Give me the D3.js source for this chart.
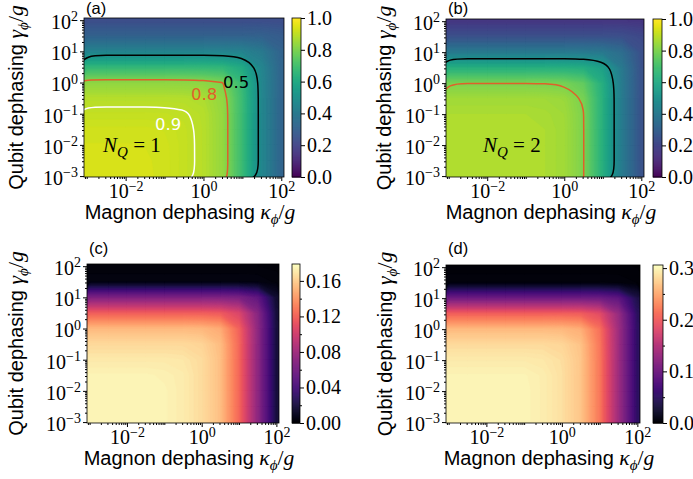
<!DOCTYPE html>
<html>
<head>
<meta charset="utf-8">
<script src="https://cdn.jsdelivr.net/npm/d3@7"></script>
<style>
  body { margin: 0; background: #fff; }
  svg { display: block; }
</style>
</head>
<body>
<svg id="fig" width="693" height="479"></svg>
<script>
// grid of the maps: columns are log10(kappa_phi/g), rows are log10(gamma_phi/g), top row first
var logKappa = [-3, -2.5, -2, -1.5, -1, -0.5, 0, 0.5, 1, 1.5, 2];
var logGamma = [2, 1.5, 1, 0.5, 0, -0.5, -1, -1.5, -2, -2.5, -3];

// (a) fidelity, N_Q = 1
var fidelityNQ1 = [
  [0.235, 0.235, 0.235, 0.235, 0.235, 0.235, 0.235, 0.235, 0.235, 0.235, 0.234],
  [0.310, 0.310, 0.310, 0.310, 0.310, 0.310, 0.310, 0.310, 0.310, 0.308, 0.288],
  [0.446, 0.446, 0.446, 0.446, 0.446, 0.446, 0.446, 0.445, 0.440, 0.404, 0.315],
  [0.660, 0.660, 0.660, 0.660, 0.660, 0.660, 0.659, 0.652, 0.600, 0.452, 0.320],
  [0.830, 0.830, 0.830, 0.830, 0.830, 0.829, 0.825, 0.800, 0.669, 0.459, 0.320],
  [0.887, 0.887, 0.887, 0.887, 0.887, 0.885, 0.876, 0.834, 0.679, 0.460, 0.320],
  [0.910, 0.910, 0.910, 0.910, 0.909, 0.905, 0.888, 0.840, 0.680, 0.460, 0.320],
  [0.928, 0.928, 0.928, 0.928, 0.924, 0.911, 0.890, 0.840, 0.680, 0.460, 0.320],
  [0.934, 0.934, 0.934, 0.933, 0.929, 0.912, 0.890, 0.840, 0.680, 0.460, 0.320],
  [0.940, 0.940, 0.940, 0.935, 0.930, 0.912, 0.890, 0.840, 0.680, 0.460, 0.320],
  [0.940, 0.940, 0.940, 0.936, 0.930, 0.912, 0.890, 0.840, 0.680, 0.460, 0.320]
];

// (b) fidelity, N_Q = 2
var fidelityNQ2 = [
  [0.159, 0.159, 0.159, 0.159, 0.159, 0.159, 0.159, 0.159, 0.159, 0.159, 0.157],
  [0.249, 0.249, 0.249, 0.249, 0.249, 0.249, 0.249, 0.249, 0.249, 0.245, 0.219],
  [0.408, 0.408, 0.408, 0.408, 0.408, 0.408, 0.408, 0.407, 0.401, 0.355, 0.246],
  [0.628, 0.628, 0.628, 0.628, 0.628, 0.628, 0.626, 0.619, 0.563, 0.402, 0.250],
  [0.799, 0.799, 0.799, 0.799, 0.799, 0.798, 0.793, 0.757, 0.621, 0.409, 0.250],
  [0.860, 0.860, 0.860, 0.860, 0.860, 0.858, 0.848, 0.794, 0.630, 0.410, 0.250],
  [0.875, 0.875, 0.875, 0.875, 0.875, 0.870, 0.858, 0.801, 0.630, 0.410, 0.250],
  [0.880, 0.880, 0.880, 0.880, 0.880, 0.875, 0.860, 0.802, 0.630, 0.410, 0.250],
  [0.880, 0.880, 0.880, 0.880, 0.880, 0.875, 0.860, 0.802, 0.630, 0.410, 0.250],
  [0.880, 0.880, 0.880, 0.880, 0.880, 0.875, 0.860, 0.802, 0.630, 0.410, 0.250],
  [0.880, 0.880, 0.880, 0.880, 0.880, 0.875, 0.860, 0.802, 0.630, 0.410, 0.250]
];

// (c)
var mapC = [
  [0.003, 0.003, 0.003, 0.003, 0.003, 0.003, 0.003, 0.003, 0.003, 0.003, 0.0025],
  [0.006, 0.006, 0.006, 0.006, 0.006, 0.006, 0.006, 0.006, 0.006, 0.0058, 0.004],
  [0.065, 0.065, 0.065, 0.065, 0.065, 0.065, 0.065, 0.065, 0.063, 0.052, 0.016],
  [0.118, 0.118, 0.118, 0.118, 0.118, 0.118, 0.118, 0.116, 0.105, 0.069, 0.019],
  [0.153, 0.153, 0.153, 0.153, 0.153, 0.153, 0.152, 0.147, 0.120, 0.072, 0.020],
  [0.165, 0.165, 0.165, 0.165, 0.165, 0.165, 0.163, 0.154, 0.122, 0.072, 0.020],
  [0.171, 0.171, 0.171, 0.171, 0.171, 0.170, 0.166, 0.155, 0.122, 0.072, 0.020],
  [0.175, 0.175, 0.175, 0.175, 0.174, 0.172, 0.166, 0.155, 0.122, 0.072, 0.020],
  [0.176, 0.176, 0.176, 0.176, 0.175, 0.172, 0.166, 0.155, 0.122, 0.072, 0.020],
  [0.176, 0.176, 0.176, 0.176, 0.175, 0.172, 0.166, 0.155, 0.122, 0.072, 0.020],
  [0.176, 0.176, 0.176, 0.176, 0.175, 0.172, 0.166, 0.155, 0.122, 0.072, 0.020]
];

// (d)
var mapD = [
  [0.003, 0.003, 0.003, 0.003, 0.003, 0.003, 0.003, 0.003, 0.003, 0.003, 0.0025],
  [0.008, 0.008, 0.008, 0.008, 0.008, 0.008, 0.008, 0.008, 0.008, 0.0075, 0.005],
  [0.100, 0.100, 0.100, 0.100, 0.100, 0.100, 0.100, 0.100, 0.099, 0.088, 0.040],
  [0.204, 0.204, 0.204, 0.204, 0.204, 0.204, 0.204, 0.202, 0.187, 0.129, 0.050],
  [0.262, 0.262, 0.262, 0.262, 0.262, 0.262, 0.261, 0.254, 0.215, 0.135, 0.052],
  [0.283, 0.283, 0.283, 0.283, 0.283, 0.283, 0.280, 0.267, 0.219, 0.135, 0.052],
  [0.293, 0.293, 0.293, 0.293, 0.293, 0.291, 0.285, 0.269, 0.220, 0.135, 0.052],
  [0.299, 0.299, 0.299, 0.299, 0.299, 0.295, 0.286, 0.269, 0.220, 0.135, 0.052],
  [0.300, 0.300, 0.300, 0.300, 0.300, 0.295, 0.286, 0.269, 0.220, 0.135, 0.052],
  [0.300, 0.300, 0.300, 0.300, 0.300, 0.295, 0.286, 0.269, 0.220, 0.135, 0.052],
  [0.300, 0.300, 0.300, 0.300, 0.300, 0.295, 0.286, 0.269, 0.220, 0.135, 0.052]
];

var xTickExps = [-2, 0, 2];
var yTickExps = [-3, -2, -1, 0, 1, 2];
var cbTicksFid = [0, 0.2, 0.4, 0.6, 0.8, 1.0];
var cbTicksC = [0, 0.04, 0.08, 0.12, 0.16];
var cbMinorC = [0.02, 0.06, 0.10, 0.14];
var cbTicksD = [0, 0.1, 0.2, 0.3];
var cbMinorD = [0.05, 0.15, 0.25];
var levelsNQ1 = [0.5, 0.8, 0.9];
var levelsNQ2 = [0.5, 0.8];

var levelColor = { 0.5: '#000000', 0.8: '#e0602a', 0.9: '#ffffff' };
var serif = '"Liberation Serif", "Times New Roman", serif';
var sans = '"Liberation Sans", Arial, sans-serif';
var logLo = -3.07, logHi = 2.07;
var gamLo = -3.03, gamHi = 2.07;
var titleSize = 20;

var panels = [
  { tag: '(a)', tagY: 14, grid: fidelityNQ1, cmap: d3.interpolateViridis, vmax: 1,
    left: 84, right: 284, top: 18, bottom: 177, cbX: 292, cbW: 9,
    cbTicks: cbTicksFid, cbMinor: [], fmt: '.1f', levels: levelsNQ1,
    labels: [['0.5', 0.84, -0.18], ['0.8', 0.02, -0.56], ['0.9', -0.91, -1.52]],
    nq: ['1', -2.58, -2.23], ylabX: 23 },
  { tag: '(b)', tagY: 14, grid: fidelityNQ2, cmap: d3.interpolateViridis, vmax: 1,
    left: 446, right: 644, top: 19, bottom: 177, cbX: 653, cbW: 9,
    cbTicks: cbTicksFid, cbMinor: [], fmt: '.1f', levels: levelsNQ2,
    labels: [], nq: ['2', -2.11, -2.22], ylabX: 391 },
  { tag: '(c)', tagY: 254, grid: mapC, cmap: d3.interpolateMagma, vmax: 0.179,
    left: 87, right: 279, top: 264, bottom: 423, cbX: 292, cbW: 8,
    cbTicks: cbTicksC, cbMinor: cbMinorC, fmt: '.2f', levels: [],
    labels: [], nq: null, ylabX: 23 },
  { tag: '(d)', tagY: 254, grid: mapD, cmap: d3.interpolateMagma, vmax: 0.306,
    left: 446, right: 640, top: 265, bottom: 423, cbX: 653, cbW: 10,
    cbTicks: cbTicksD, cbMinor: cbMinorD, fmt: '.1f', levels: [],
    labels: [], nq: null, ylabX: 392 }
];

var svg = d3.select('#fig');

function supLabel(sel, exp) {
  sel.text(null);
  sel.append('tspan').text('10');
  sel.append('tspan')
    .attr('dy', '-0.55em')
    .attr('font-size', '70%')
    .text(exp < 0 ? '\u2212' + Math.abs(exp) : String(exp));
}

function minorValues(lo, hi) {
  var out = [];
  for (var e = -4; e <= 2; e++) {
    for (var m = 1; m <= 9; m++) {
      var v = m * Math.pow(10, e);
      var l = Math.log10(v);
      if (l >= lo && l <= hi && !(m === 1 && (e % 2 === 0))) out.push(v);
    }
  }
  return out;
}

function mathLabel(sel, before, symbol, size) {
  var ms = size * 1.08;
  sel.append('tspan').attr('font-family', sans).text(before);
  sel.append('tspan').attr('font-family', serif).attr('font-style', 'italic')
    .attr('font-size', ms).text(symbol);
  sel.append('tspan').attr('font-family', serif).attr('font-style', 'italic')
    .attr('font-size', ms * 0.7).attr('dy', ms * 0.25).text('\u03d5');
  sel.append('tspan').attr('font-family', serif).attr('font-size', ms)
    .attr('dy', -ms * 0.25).text('/');
  sel.append('tspan').attr('font-family', serif).attr('font-style', 'italic')
    .attr('font-size', ms).text('g');
}

panels.forEach(function(p, pi) {
  var g = svg.append('g');
  var x = d3.scaleLog().domain([Math.pow(10, logLo), Math.pow(10, logHi)]).range([p.left, p.right]);
  var y = d3.scaleLog().domain([Math.pow(10, gamLo), Math.pow(10, gamHi)]).range([p.bottom, p.top]);

  var nx = logKappa.length, ny = logGamma.length;
  var half = (logKappa[1] - logKappa[0]) / 2;
  var gridX = d3.scaleLinear().domain([0, nx]).range([logKappa[0] - half, logKappa[nx - 1] + half]);
  var gridY = d3.scaleLinear().domain([0, ny]).range([logGamma[0] + half, logGamma[ny - 1] - half]);
  function toPx(pt) {
    return [x(Math.pow(10, gridX(pt[0]))), y(Math.pow(10, gridY(pt[1])))];
  }
  var path = d3.geoPath(d3.geoTransform({
    point: function(u, v) {
      var q = toPx([u, v]);
      this.stream.point(q[0], q[1]);
    }
  }));

  var clipId = 'clip' + pi;
  svg.append('clipPath').attr('id', clipId)
    .append('rect')
    .attr('x', p.left).attr('y', p.top)
    .attr('width', p.right - p.left).attr('height', p.bottom - p.top);

  var values = [].concat.apply([], p.grid);
  var step = p.vmax / 120;
  var thresholds = d3.range(0, p.vmax, step);
  var bands = d3.contours().size([nx, ny]).smooth(true).thresholds(thresholds)(values);

  var map = g.append('g').attr('clip-path', 'url(#' + clipId + ')');
  map.selectAll('path.band')
    .data(bands)
    .join('path')
    .attr('class', 'band')
    .attr('d', path)
    .attr('fill', function(d) { return p.cmap(Math.min(1, (d.value + step / 2) / p.vmax)); })
    .attr('stroke', function(d) { return p.cmap(Math.min(1, (d.value + step / 2) / p.vmax)); })
    .attr('stroke-width', 0.3);

  // contour lines, rounded with a basis curve
  if (p.levels.length) {
    var smoothLine = d3.line().curve(d3.curveBasisClosed);
    var lines = d3.contours().size([nx, ny]).thresholds(p.levels)(values);
    lines.forEach(function(mp) {
      mp.coordinates.forEach(function(poly) {
        poly.forEach(function(ring) {
          map.append('path')
            .attr('d', smoothLine(ring.slice(0, -1).map(toPx)))
            .attr('fill', 'none')
            .attr('stroke', levelColor[mp.value])
            .attr('stroke-width', 1.5);
        });
      });
    });
  }

  p.labels.forEach(function(l) {
    g.append('text')
      .attr('x', x(Math.pow(10, l[1])))
      .attr('y', y(Math.pow(10, l[2])))
      .attr('text-anchor', 'middle')
      .attr('font-family', '"DejaVu Sans", sans-serif')
      .attr('font-size', 16.5)
      .attr('fill', levelColor[+l[0]])
      .text(l[0]);
  });

  if (p.nq) {
    var nt = g.append('text')
      .attr('x', x(Math.pow(10, p.nq[1])))
      .attr('y', y(Math.pow(10, p.nq[2])))
      .attr('font-family', serif)
      .attr('font-size', 21)
      .attr('fill', '#000');
    nt.append('tspan').attr('font-style', 'italic').text('N');
    nt.append('tspan').attr('font-style', 'italic').attr('font-size', 15).attr('dy', 5).text('Q');
    nt.append('tspan').attr('dy', -5).text('\u00a0=\u00a0' + p.nq[0]);
  }

  // frame
  g.append('rect')
    .attr('x', p.left).attr('y', p.top)
    .attr('width', p.right - p.left).attr('height', p.bottom - p.top)
    .attr('fill', 'none').attr('stroke', '#000').attr('stroke-width', 0.8);

  // x axis
  var xg = g.append('g').attr('transform', 'translate(0,' + p.bottom + ')');
  xg.call(d3.axisBottom(x).tickValues(minorValues(logLo, logHi)).tickSize(2).tickFormat(''))
    .call(function(s) { s.select('.domain').remove(); });
  var xg2 = g.append('g').attr('transform', 'translate(0,' + p.bottom + ')');
  xg2.call(d3.axisBottom(x)
      .tickValues(xTickExps.map(function(e) { return Math.pow(10, e); }))
      .tickSize(4).tickPadding(3))
    .call(function(s) { s.select('.domain').remove(); })
    .attr('font-family', serif).attr('font-size', 20);
  xg2.selectAll('.tick text').each(function(d) {
    supLabel(d3.select(this), Math.round(Math.log10(d)));
  });

  // y axis
  var yMinor = minorValues(gamLo, gamHi).filter(function(v) {
    return Math.abs(Math.log10(v) - Math.round(Math.log10(v))) > 1e-6;
  });
  var yg = g.append('g').attr('transform', 'translate(' + p.left + ',0)');
  yg.call(d3.axisLeft(y).tickValues(yMinor).tickSize(2).tickFormat(''))
    .call(function(s) { s.select('.domain').remove(); });
  var yg2 = g.append('g').attr('transform', 'translate(' + p.left + ',0)');
  yg2.call(d3.axisLeft(y)
      .tickValues(yTickExps.map(function(e) { return Math.pow(10, e); }))
      .tickSize(4).tickPadding(2))
    .call(function(s) { s.select('.domain').remove(); })
    .attr('font-family', serif).attr('font-size', 20);
  yg2.selectAll('.tick text').each(function(d) {
    supLabel(d3.select(this), Math.round(Math.log10(d)));
  }).attr('dy', '0.42em');

  // axis titles
  var xt = g.append('text')
    .attr('x', (p.left + p.right) / 2 + 6)
    .attr('y', p.bottom + 42)
    .attr('text-anchor', 'middle')
    .attr('font-size', titleSize)
    .attr('fill', '#000');
  mathLabel(xt, 'Magnon dephasing ', '\u03ba', titleSize);

  var yt = g.append('text')
    .attr('transform', 'translate(' + p.ylabX + ',' + ((p.top + p.bottom) / 2) + ') rotate(-90)')
    .attr('text-anchor', 'middle')
    .attr('font-size', titleSize)
    .attr('fill', '#000');
  mathLabel(yt, 'Qubit dephasing ', '\u03b3', titleSize);

  // panel tag
  g.append('text')
    .attr('x', p.left + 2)
    .attr('y', p.tagY)
    .attr('font-family', sans)
    .attr('font-size', 16.5)
    .text(p.tag);

  // colorbar
  var cb = d3.scaleLinear().domain([0, p.vmax]).range([p.bottom, p.top]);
  var nSlices = 160;
  var cg = g.append('g');
  cg.selectAll('rect.slice')
    .data(d3.range(nSlices))
    .join('rect')
    .attr('class', 'slice')
    .attr('x', p.cbX)
    .attr('width', p.cbW)
    .attr('y', function(i) { return cb((i + 1) * p.vmax / nSlices); })
    .attr('height', function(i) { return cb(i * p.vmax / nSlices) - cb((i + 1) * p.vmax / nSlices) + 0.6; })
    .attr('fill', function(i) { return p.cmap((i + 0.5) / nSlices); });
  cg.append('rect')
    .attr('x', p.cbX).attr('y', p.top)
    .attr('width', p.cbW).attr('height', p.bottom - p.top)
    .attr('fill', 'none').attr('stroke', '#000').attr('stroke-width', 0.8);
  if (p.cbMinor.length) {
    cg.append('g').attr('transform', 'translate(' + (p.cbX + p.cbW) + ',0)')
      .call(d3.axisRight(cb).tickValues(p.cbMinor).tickSize(2).tickFormat(''))
      .call(function(s) { s.select('.domain').remove(); });
  }
  cg.append('g').attr('transform', 'translate(' + (p.cbX + p.cbW) + ',0)')
    .call(d3.axisRight(cb).tickValues(p.cbTicks).tickFormat(d3.format(p.fmt)).tickSize(4).tickPadding(2))
    .call(function(s) { s.select('.domain').remove(); })
    .attr('font-family', serif).attr('font-size', 20);
});
</script>
</body>
</html>
